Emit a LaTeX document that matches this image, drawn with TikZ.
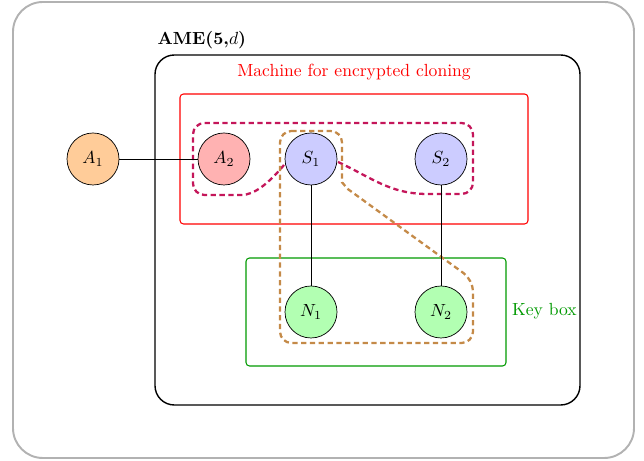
\documentclass[tikz,border=0pt]{standalone}
\usepackage{amsmath,amssymb}
\usepackage{tikz}
\usetikzlibrary{arrows.meta}
\definecolor{cloneloop}{RGB}{196,22,90}
\definecolor{keyloop}{RGB}{196,138,72}
\tikzset{>=stealth}
\tikzset{
  party/.style={circle,draw,thin,minimum size=1.04cm,inner sep=0pt}}
\tikzset{
  loopline/.style={densely dashed,line width=1.3pt}}
\begin{document}
\begin{tikzpicture}
    \useasboundingbox (0,0) rectangle (12.88,9.22);
    \draw[gray!60,line width=1.1pt,rounded corners=17pt] (0.26,0.06) rectangle (12.68,9.18);
    % outer machine
    \draw[thick,rounded corners=11pt] (3.1,1.12) rectangle (11.6,8.12);
    \node[anchor=west] (ame) at (3.03,8.42) {\textbf{AME(5,$d$)}};
    \draw[red,semithick,rounded corners=2pt] (3.6,4.74) rectangle (10.56,7.34);
    \node[red] (mach) at (7.08,7.78) {Machine for encrypted cloning};
    \draw[green!60!black,semithick,rounded corners=2pt] (4.92,1.9) rectangle (10.12,4.06);
    \node[green!60!black,anchor=west] (key) at (10.12,3.0) {Key box};
    % dashed groups
    \draw[loopline,cloneloop] (6.76,5.98) to[out=-25,in=180] (8.55,5.34)
        [rounded corners=6.5pt] -- (9.46,5.34) -- (9.46,6.76) -- (3.86,6.76) -- (3.86,5.32) -- (4.6,5.32)
        [sharp corners] to[out=0,in=-130] (5.68,5.92);
    \draw[loopline,keyloop,rounded corners=6.5pt] (5.6,6.6) -- (6.84,6.6) -- (6.84,5.8)
        to[out=-90,in=144] (7.12,5.32) -- (9.46,3.62) -- (9.46,2.36) -- (5.6,2.36) -- cycle;
    % parties
    \node[party,fill=orange!40] (A1) at (1.86,6.04) {$A_1$};
    \node[party,fill=red!30] (A2) at (4.48,6.04) {$A_2$};
    \node[party,fill=blue!20] (S1) at (6.22,6.04) {$S_1$};
    \node[party,fill=blue!20] (S2) at (8.82,6.04) {$S_2$};
    \node[party,fill=green!30] (N1) at (6.22,2.98) {$N_1$};
    \node[party,fill=green!30] (N2) at (8.82,2.98) {$N_2$};
    \draw (A1) -- (A2);
    \draw (S1) -- (N1);
    \draw (S2) -- (N2);
\end{tikzpicture}
\end{document}
